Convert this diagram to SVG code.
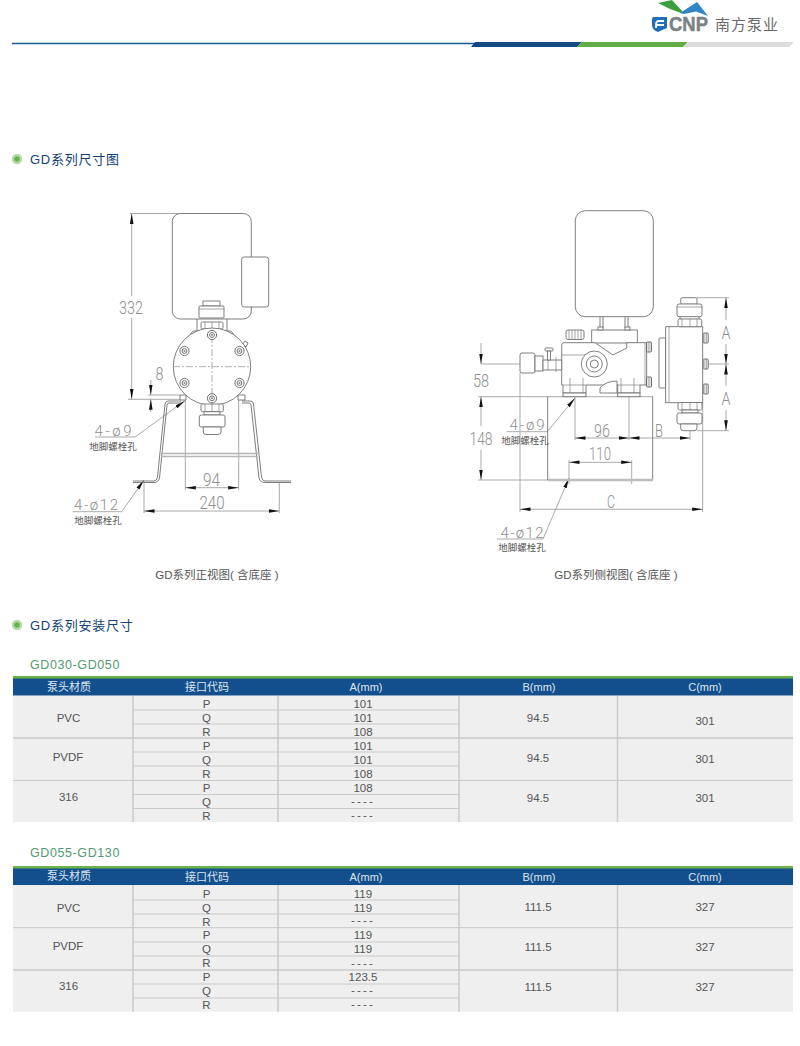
<svg xmlns="http://www.w3.org/2000/svg" width="800" height="1046" viewBox="0 0 800 1046">
<style>
text{font-family:"Liberation Sans","Noto Sans CJK SC",sans-serif}
.d,.h{font-family:Roboto,"Liberation Sans",sans-serif;font-weight:300;fill:#8e8e8e;text-anchor:middle}
.d{font-size:18px}
.h{font-size:15px}
.s{font-size:9.5px;fill:#555;text-anchor:middle}
.cap{font-size:11.5px;fill:#555;text-anchor:middle}
.sec{font-size:13px;fill:#123f75;letter-spacing:.75px}
.sub{font-size:12.5px;fill:#4f9a72;letter-spacing:.6px}
.th{font-size:11px;fill:#dbe6f0;text-anchor:middle}
.td{font-size:11.5px;fill:#555;text-anchor:middle}
.o{fill:#fff;stroke:#707070;stroke-width:.9}
.n{fill:none;stroke:#707070;stroke-width:.9}
.k{fill:none;stroke:#808080;stroke-width:.7}
.c{fill:none;stroke:#999;stroke-width:.8;stroke-dasharray:7 2 2 2}
.dim{fill:none;stroke:#a0a0a0;stroke-width:.9}
.ar{marker-start:url(#a);marker-end:url(#a)}
.ae{marker-end:url(#a)}
.g{stroke:#c9c9c9;stroke-width:1;fill:none}
.g2{stroke:#c9c9c9;stroke-width:1.5;fill:none}
</style>
<defs>
<marker id="a" markerUnits="userSpaceOnUse" markerWidth="11" markerHeight="5" refX="10.5" refY="2.5" orient="auto-start-reverse"><path d="M0,.7 L10.5,2.5 L0,4.3 z" fill="#111"/></marker>
<g id="bolt"><circle r="4.6" fill="#fff" stroke="#707070"/><circle r="2.4" fill="none" stroke="#707070"/><circle r="1" fill="#888"/></g>
<g id="sb"><rect x="-2.5" y="-5" width="5" height="10" rx="1" fill="#fff" stroke="#707070"/><path d="M-.8-5V5M.9-5V5" stroke="#707070" stroke-width=".6"/></g>
</defs>

<g id="header">
<path d="M12 43.5H474" stroke="#1c5a8e" stroke-width="1.5"/>
<polygon points="475,42 582,42 577,47 471,47" fill="#134a84"/>
<polygon points="582,42 688,42 683,47 577,47" fill="#62ad45"/>
<polygon points="688,42 794,42 789,47 683,47" fill="#dcdcdc"/>
</g>
<g id="logo">
<polygon points="658,3 672,0 683,12 681,13 670,9" fill="#3c9f3c"/>
<polygon points="680,13 697,2 708,16 696,11.5 684,14" fill="#2f86c5"/>
<path d="M654 17H667V28Q662 30 658 32Q652 30 652 25V19Q652 17 654 17z" fill="#1f6fb8"/>
<path d="M664 21H659Q656 21 656 25V28M656 25H664" fill="none" stroke="#fff" stroke-width="1.8"/>
<text x="669" y="31" font-size="20" font-weight="700" fill="#7b8287" stroke="#7b8287" stroke-width=".5" textLength="39" lengthAdjust="spacingAndGlyphs">CNP</text>
<text x="715" y="30" font-size="15" fill="#6a6a6a" letter-spacing="1">南方泵业</text>
</g>

<g id="title-1"><circle cx="17" cy="159" r="4" fill="#6ab04c" stroke="#b8dba8" stroke-width="2.4"/><text class="sec" x="30" y="164">GD系列尺寸图</text></g>
<g id="title-2"><circle cx="17" cy="625" r="4" fill="#6ab04c" stroke="#b8dba8" stroke-width="2.4"/><text class="sec" x="30" y="630">GD系列安装尺寸</text></g>

<g id="connectors">
<path class="dim" d="M130 213.5H180M128 399.3H180M148 395H180"/>
<path class="dim ae" d="M131.7 296V213.5"/>
<path class="dim ae" d="M131.7 318V399.3"/>
<path class="dim ae" d="M150.8 380V395"/>
<path class="dim ae" d="M150.8 412V399.3"/>
<path class="dim" d="M185.3 396V490M238.7 396V490M144 483V513M279.3 483V513"/>
<path class="dim ar" d="M185.3 487.7H238.7"/>
<path class="dim ar" d="M144 511H279.3"/>
<path class="dim" d="M95 437H135"/>
<path class="dim ae" d="M135 437L185 400.7"/>
<path class="dim" d="M72.7 511.7H121.7"/>
<path class="dim ae" d="M121.7 511.7L144 480"/>
<path class="dim" d="M481 364H520M478 396.7H653M478 480H548M697 297.7H729M706 364H729M697 430.7H729M520 373V512M702.7 403V512M575 396V440M629 393V440M690 431V440M569 460V484M631.7 460V484"/>
<path class="dim ae" d="M481 343V364"/>
<path class="dim ae" d="M481 426V396.7"/>
<path class="dim ae" d="M481 450V480"/>
<path class="dim ae" d="M726 320V297.7"/>
<path class="dim ae" d="M726 344V364"/>
<path class="dim ae" d="M726 386V364"/>
<path class="dim ae" d="M726 410V430.7"/>
<path class="dim ar" d="M575 438H629"/>
<path class="dim ar" d="M629 438H690"/>
<path class="dim ar" d="M569 462.3H631.7"/>
<path class="dim ar" d="M520 509.3H702.7"/>
<path class="dim" d="M506.7 431.7H547.3"/>
<path class="dim ae" d="M547.3 431.7L575 398"/>
<path class="dim" d="M497 539H543"/>
<path class="dim ae" d="M543 539L569 478"/>
</g>

<g id="front-view">
<path d="M133 481H154Q157 481 157.5 477L165 404Q165.500 401 168 401H181M242 401H250Q253 401 253.5 404L261.5 477Q262 481 265 481H291M133 482.5H154Q158.500 482.5 159.5 478L167 405Q167.500 403 169 403H181M242 403H249Q250.500 403 251 405L259 478Q260 482.5 265 482.5H291" class="n"/>
<path d="M161 453.5H258M161 456.5H258" stroke="#b5b5b5" stroke-width="1.4"/>
<rect class="o" x="172.3" y="213.5" width="79" height="105.5" rx="8"/>
<rect class="o" x="241.7" y="257" width="27" height="50" rx="2.5"/>
<path class="o" d="M203 306V301H220V306z"/>
<rect class="o" x="199" y="306" width="25" height="12" rx="1"/>
<path class="k" d="M199 309H224"/>
<path class="n" d="M197 319V331M227 319V331"/>
<rect class="o" x="201" y="322" width="22" height="7" rx="1.5"/>
<path class="k" d="M205 322V329M219 322V329M212 322V329"/>
<path class="o" d="M180 395H186V400H180zM238 395H245V400H238z"/>
<path class="o" d="M188 337L193 331H231L236 337z"/>
<path class="o" d="M243 344L246 347L248 343L245 341z"/>
<circle class="o" cx="212" cy="366.7" r="38.7"/>
<path class="c" d="M173 366.7H251M212 336V405"/>
<use href="#bolt" x="212" y="335"/><use href="#bolt" x="184.5" y="351"/><use href="#bolt" x="239.5" y="351"/><use href="#bolt" x="184.5" y="383"/><use href="#bolt" x="239.5" y="383"/><use href="#bolt" x="212" y="398.3"/>
<rect class="o" x="201" y="404" width="22.3" height="7.7" rx="1.5"/>
<path class="k" d="M205 404V411.7M219 404V411.7M212 404V411.7"/>
<path class="o" d="M204 411.7H220V415H204z"/>
<rect class="o" x="199.3" y="415" width="25.7" height="12" rx="2"/>
<path class="o" d="M203.3 427H221V432Q221 434.500 218 434.500H206Q203.300 434.500 203.300 432z"/>
<text class="d" x="131" y="313.5" textLength="24" lengthAdjust="spacingAndGlyphs">332</text>
<text class="d" x="159.5" y="379.5" textLength="8" lengthAdjust="spacingAndGlyphs">8</text>
<text class="d" x="211.5" y="485.5" textLength="17" lengthAdjust="spacingAndGlyphs">94</text>
<text class="d" x="212" y="509" textLength="25" lengthAdjust="spacingAndGlyphs">240</text>
<text class="h" x="113" y="436" textLength="37">4-ø9</text>
<text class="s" x="113" y="450">地脚螺栓孔</text>
<text class="h" x="96" y="510" textLength="44">4-ø12</text>
<text class="s" x="98" y="524">地脚螺栓孔</text>
<text class="cap" x="217" y="579">GD系列正视图( 含底座 )</text>
</g>

<g id="side-view">
<path d="M547.7 396.7V480H652.7V396.7" class="n"/>
<path d="M548 480H653" stroke="#bdbdbd" stroke-width="2.5"/>
<rect class="o" x="575.3" y="210.7" width="78" height="106" rx="10"/>
<path class="n" d="M600 316.7V328M603 316.7V328M625 316.7V328M628 316.7V328"/>
<rect class="o" x="591.7" y="330" width="45.6" height="13"/>
<rect class="o" x="598" y="327" width="5" height="3"/><rect class="o" x="625" y="327" width="5" height="3"/>
<rect class="o" x="566" y="330" width="18" height="9.5" rx="2"/>
<path class="k" d="M569 330V339.5M572 330V339.5M575 330V339.5M578 330V339.5M581 330V339.5"/>
<path class="o" d="M561.7 345Q561.7 342.7 564 342.7H595L613 355L626.7 348V342.7H646.7V385H640V393H617.7V385H586V393H563V385H561.7z"/>
<path class="k" d="M562 355H600M570 378V393M583 378V393M621 378V393M634 378V393M563 385H586M617 385H640M645 342.7V385"/>
<path class="o" d="M600 393V388Q606 381 617 381V393z"/>
<rect class="o" x="563" y="393" width="23" height="3.7"/><rect class="o" x="617.7" y="393" width="22.3" height="3.7"/>
<circle class="o" cx="594.3" cy="364" r="13"/><circle class="n" cx="594.3" cy="364" r="8"/><circle class="n" cx="594.3" cy="364" r="4"/>
<rect class="o" x="520" y="353" width="15" height="20" rx="2"/>
<rect class="o" x="535" y="356" width="8" height="15"/>
<path class="o" d="M543 360H561.7V370H543z"/>
<rect class="o" x="545" y="348" width="8" height="3" rx="1"/><rect class="o" x="547.5" y="351" width="3" height="9"/>
<path class="k" d="M548 360V370M556 357V372"/>
<use href="#sb" x="649" y="347"/><use href="#sb" x="649" y="382"/>
<rect class="o" x="659" y="338" width="6.7" height="50" rx="1"/>
<rect class="o" x="665.7" y="326.7" width="37" height="76"/>
<path class="k" d="M669 326.7V402.7"/>
<use href="#sb" x="705.7" y="338"/><use href="#sb" x="705.7" y="364"/><use href="#sb" x="705.7" y="389"/>
<rect class="o" x="680.7" y="297.7" width="16.3" height="6.5" rx="1.5"/>
<rect class="o" x="677" y="304" width="25" height="12.7" rx="2"/>
<path class="k" d="M677 307H702"/>
<rect class="o" x="678" y="319" width="23.7" height="7.7" rx="1.5"/>
<path class="k" d="M682 319V326.7M697 319V326.7M690 319V326.7"/>
<path class="n" d="M680 316.7V319M699 316.7V319"/>
<rect class="o" x="678" y="402.5" width="24" height="7.5" rx="1.5"/>
<path class="k" d="M682 402.5V410M697 402.5V410M690 402.5V410"/>
<path class="o" d="M682 410H698V413H682z"/>
<rect class="o" x="677" y="413" width="25" height="11" rx="2"/>
<path class="o" d="M680.7 424H697V428Q697 430.7 694 430.7H683Q680.7 430.7 680.7 428z"/>
<text class="d" x="481" y="386.5" textLength="16" lengthAdjust="spacingAndGlyphs">58</text>
<text class="d" x="481" y="445" textLength="23" lengthAdjust="spacingAndGlyphs">148</text>
<text class="d" x="726" y="339" textLength="9" lengthAdjust="spacingAndGlyphs">A</text>
<text class="d" x="726" y="405" textLength="9" lengthAdjust="spacingAndGlyphs">A</text>
<text class="d" x="602" y="436.5" textLength="16" lengthAdjust="spacingAndGlyphs">96</text>
<text class="d" x="659" y="436.5" textLength="8" lengthAdjust="spacingAndGlyphs">B</text>
<text class="d" x="600" y="460" textLength="22" lengthAdjust="spacingAndGlyphs">110</text>
<text class="d" x="611" y="508" textLength="8" lengthAdjust="spacingAndGlyphs">C</text>
<text class="h" x="527" y="430" textLength="35">4-ø9</text>
<text class="s" x="525" y="444">地脚螺栓孔</text>
<text class="h" x="522" y="538" textLength="43">4-ø12</text>
<text class="s" x="522" y="551">地脚螺栓孔</text>
<text class="cap" x="616" y="579">GD系列侧视图( 含底座 )</text>
</g>

<g id="table-1">
<text class="sub" x="30" y="669">GD030-GD050</text>
<rect x="13" y="676" width="780" height="3" fill="#6cb24a"/>
<rect x="13" y="678.5" width="780" height="17.2" fill="#134f8c"/>
<rect x="13" y="695.7" width="780" height="126.3" fill="#efefef"/>
<path class="g" d="M133 710H459M133 724H459M133 752H459M133 766H459M13 780.5H793M133 794.5H459M133 808.5H459"/>
<path class="g2" d="M13 738H793M133 696V822M278 696V822M459 696V822M617.5 696V822"/>
<text class="th" x="69" y="690.5">泵头材质</text><text class="th" x="207" y="691">接口代码</text><text class="th" x="366" y="691">A(mm)</text><text class="th" x="539" y="691">B(mm)</text><text class="th" x="705" y="691">C(mm)</text>
<text class="td" x="68.5" y="722">PVC</text><text class="td" x="68" y="761">PVDF</text><text class="td" x="68.5" y="801">316</text>
<text class="td" x="206.5" y="708">P</text><text class="td" x="206.5" y="722">Q</text><text class="td" x="206.5" y="736">R</text>
<text class="td" x="206.5" y="750">P</text><text class="td" x="206.5" y="764">Q</text><text class="td" x="206.5" y="778">R</text>
<text class="td" x="206.5" y="792">P</text><text class="td" x="206.5" y="806">Q</text><text class="td" x="206.5" y="820">R</text>
<text class="td" x="363" y="708">101</text><text class="td" x="363" y="722">101</text><text class="td" x="363" y="736">108</text>
<text class="td" x="363" y="750">101</text><text class="td" x="363" y="764">101</text><text class="td" x="363" y="778">108</text>
<text class="td" x="363" y="792">108</text><text class="td" x="363" y="805" letter-spacing="2.2">----</text><text class="td" x="363" y="819" letter-spacing="2.2">----</text>
<text class="td" x="538" y="722">94.5</text><text class="td" x="538" y="762">94.5</text><text class="td" x="538" y="802">94.5</text>
<text class="td" x="705" y="725">301</text><text class="td" x="705" y="763">301</text><text class="td" x="705" y="802">301</text>
</g>

<g id="table-2">
<text class="sub" x="30" y="857">GD055-GD130</text>
<rect x="13" y="866" width="780" height="3" fill="#6cb24a"/>
<rect x="13" y="868.5" width="780" height="16.7" fill="#134f8c"/>
<rect x="13" y="885.2" width="780" height="126.5" fill="#efefef"/>
<path class="g" d="M133 900H459M133 914H459M133 942H459M133 956H459M133 984H459M133 998H459M13 927.7H793"/>
<path class="g2" d="M13 970H793M133 885V1011.7M278 885V1011.7M459 885V1011.7M617.5 885V1011.7"/>
<text class="th" x="69" y="880">泵头材质</text><text class="th" x="207" y="881">接口代码</text><text class="th" x="366" y="881">A(mm)</text><text class="th" x="539" y="881">B(mm)</text><text class="th" x="705" y="881">C(mm)</text>
<text class="td" x="68.5" y="912">PVC</text><text class="td" x="68" y="950">PVDF</text><text class="td" x="68.5" y="990">316</text>
<text class="td" x="206.5" y="898">P</text><text class="td" x="206.5" y="912">Q</text><text class="td" x="206.5" y="926">R</text>
<text class="td" x="206.5" y="939">P</text><text class="td" x="206.5" y="953">Q</text><text class="td" x="206.5" y="967">R</text>
<text class="td" x="206.5" y="981">P</text><text class="td" x="206.5" y="995">Q</text><text class="td" x="206.5" y="1009">R</text>
<text class="td" x="363" y="898">119</text><text class="td" x="363" y="912">119</text><text class="td" x="363" y="924" letter-spacing="2.2">----</text>
<text class="td" x="363" y="939">119</text><text class="td" x="363" y="953">119</text><text class="td" x="363" y="967" letter-spacing="2.2">----</text>
<text class="td" x="363" y="981">123.5</text><text class="td" x="363" y="994" letter-spacing="2.2">----</text><text class="td" x="363" y="1008" letter-spacing="2.2">----</text>
<text class="td" x="538" y="911">111.5</text><text class="td" x="538" y="951">111.5</text><text class="td" x="538" y="991">111.5</text>
<text class="td" x="705" y="911">327</text><text class="td" x="705" y="951">327</text><text class="td" x="705" y="991">327</text>
</g>
</svg>
